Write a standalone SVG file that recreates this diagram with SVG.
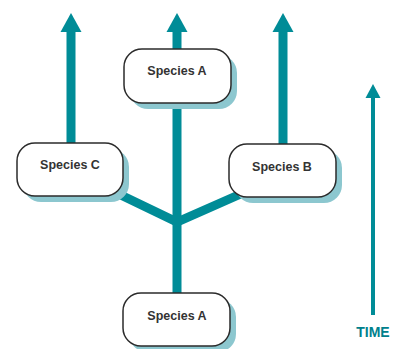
<svg xmlns="http://www.w3.org/2000/svg" width="404" height="349" viewBox="0 0 404 349">
<style>
.box{fill:#fff;stroke:#2b2b2b;stroke-width:1.5}
.shadow{fill:#8cc7cf}
.lbl{font-family:"Liberation Sans",Arial,sans-serif;font-weight:bold;font-size:12.5px;fill:#333;text-anchor:middle}
.br{stroke:#008c97;stroke-width:9;fill:none}
.time{stroke:#008c97;stroke-width:4;fill:none}
.timelbl{font-family:"Liberation Sans",Arial,sans-serif;font-weight:bold;font-size:14px;fill:#00808c;text-anchor:middle}
</style>
<defs>
<marker id="head" markerUnits="userSpaceOnUse" viewBox="0 -11 20 22" refX="1" refY="0" markerWidth="20" markerHeight="22" orient="auto">
<path d="M0,-10.5 L19,0 L0,10.5 Z" fill="#008c97"/>
</marker>
<marker id="headS" markerUnits="userSpaceOnUse" viewBox="0 -8 16 16" refX="1" refY="0" markerWidth="16" markerHeight="16" orient="auto">
<path d="M0,-7.5 L14,0 L0,7.5 Z" fill="#008c97"/>
</marker>
</defs>
<g id="connectors">
<line class="br" x1="71" y1="150" x2="71" y2="31" marker-end="url(#head)"/>
<line class="br" x1="283" y1="150" x2="283" y2="31" marker-end="url(#head)"/>
<line class="br" x1="177" y1="300" x2="177" y2="31" marker-end="url(#head)"/>
<polyline class="br" points="100,185 177,222 252,189" stroke-linejoin="miter"/>
<line class="time" x1="373" y1="315" x2="373" y2="97" marker-end="url(#headS)"/>
</g>
<g id="speciesA-top">
<rect class="shadow" x="130" y="55" width="107" height="54" rx="18"/>
<rect class="box" x="124" y="49" width="107" height="54" rx="18"/>
<text class="lbl" x="177" y="75">Species A</text>
</g>
<g id="speciesC">
<rect class="shadow" x="23" y="149" width="106" height="53" rx="18"/>
<rect class="box" x="17" y="143" width="106" height="53" rx="18"/>
<text class="lbl" x="70" y="169">Species C</text>
</g>
<g id="speciesB">
<rect class="shadow" x="235" y="150" width="107" height="53" rx="18"/>
<rect class="box" x="229" y="144" width="107" height="53" rx="18"/>
<text class="lbl" x="282" y="171">Species B</text>
</g>
<g id="speciesA-bottom">
<rect class="shadow" x="129" y="299" width="107" height="53" rx="18"/>
<rect class="box" x="123" y="293" width="107" height="53" rx="18"/>
<text class="lbl" x="177" y="320">Species A</text>
</g>
<g id="time">
<text class="timelbl" x="373" y="337">TIME</text>
</g>
</svg>
